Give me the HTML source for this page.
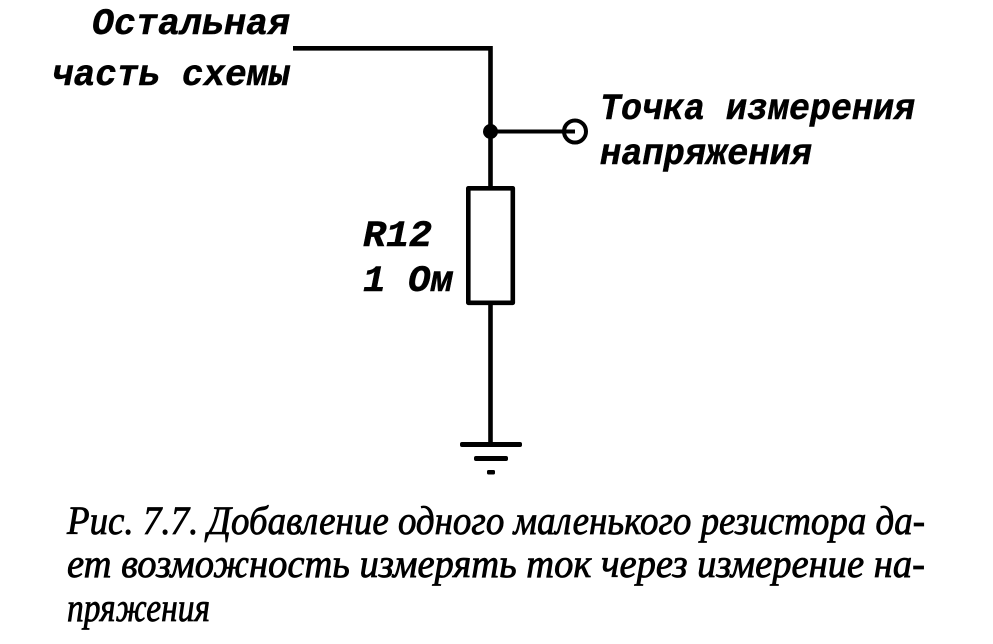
<!DOCTYPE html>
<html>
<head>
<meta charset="utf-8">
<style>
  html, body { margin: 0; padding: 0; background: #fff; }
  body { width: 993px; height: 644px; overflow: hidden; }
  svg { display: block; }
  .mono { font-family: "Liberation Mono", "DejaVu Sans Mono", monospace; font-weight: bold; font-style: italic; font-size: 37px; fill: #000; stroke: #000; stroke-width: 0.5px; }
  .cap { font-family: "Liberation Serif", "DejaVu Serif", serif; font-style: italic; font-size: 40px; fill: #000; stroke: #000; stroke-width: 0.8px; }
</style>
</head>
<body>
<svg width="993" height="644" viewBox="0 0 993 644" xmlns="http://www.w3.org/2000/svg">
  <rect x="0" y="0" width="993" height="644" fill="#fff"/>

  <!-- labels -->
  <text class="mono" x="92" y="34" textLength="198" lengthAdjust="spacingAndGlyphs">Остальная</text>
  <text class="mono" x="52" y="85" textLength="238" lengthAdjust="spacingAndGlyphs">часть схемы</text>
  <text class="mono" x="600" y="119" textLength="315" lengthAdjust="spacingAndGlyphs">Точка измерения</text>
  <text class="mono" x="600" y="164" textLength="212" lengthAdjust="spacingAndGlyphs">напряжения</text>
  <text class="mono" x="363" y="246" textLength="69" lengthAdjust="spacingAndGlyphs">R12</text>
  <text class="mono" x="363" y="291" textLength="90" lengthAdjust="spacingAndGlyphs">1 Ом</text>

  <!-- wires -->
  <g stroke="#000" fill="none" stroke-width="4.6">
    <polyline points="293,48.3 490.5,48.3 490.5,188" stroke-linejoin="miter"/>
    <line x1="490.5" y1="303" x2="490.5" y2="444"/>
    <line x1="490.5" y1="131.5" x2="575" y2="131.5" stroke-width="4"/>
    <circle cx="575" cy="131.5" r="11" stroke-width="4"/>
    <rect x="468.3" y="188.3" width="44.5" height="114.5" stroke-linejoin="round"/>
  </g>
  <circle cx="490.5" cy="131.5" r="7.5" fill="#000"/>

  <!-- ground -->
  <g fill="#000">
    <rect x="460" y="442" width="62" height="5" rx="2"/>
    <rect x="474" y="456" width="34" height="5" rx="2"/>
    <rect x="487" y="470" width="8" height="4.5" rx="1.5"/>
  </g>

  <!-- caption -->
  <text class="cap" x="67" y="534" textLength="858" lengthAdjust="spacingAndGlyphs">Рис. 7.7. Добавление одного маленького резистора да-</text>
  <text class="cap" x="67" y="577" textLength="858" lengthAdjust="spacingAndGlyphs">ет возможность измерять ток через измерение на-</text>
  <text class="cap" x="67" y="621" textLength="143" lengthAdjust="spacingAndGlyphs">пряжения</text>
</svg>
</body>
</html>
